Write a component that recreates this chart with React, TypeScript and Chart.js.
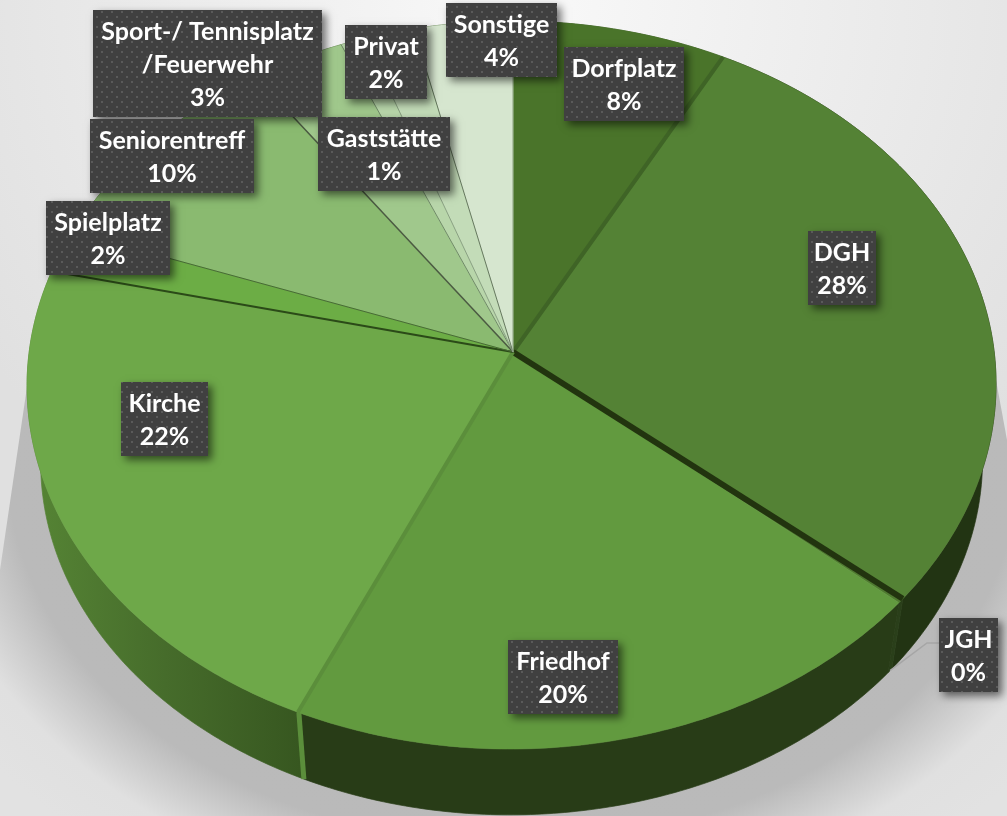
import React, { useEffect, useRef } from "react";
import { Chart, registerables } from "chart.js";

Chart.register(...registerables);

// ---- data ----
const categories = ["Dorfplatz", "DGH", "JGH", "Friedhof", "Kirche", "Spielplatz", "Seniorentreff", "Sport-/ Tennisplatz\n/Feuerwehr", "Gaststätte", "Privat", "Sonstige"];
const shares = [7.8, 28.4, 0.2, 20.29, 22, 1.9, 9.7, 3.4, 0.9, 1.8, 3.6];
const topColors = ["#4a742a", "#548235", "#4f7a30", "#629a3f", "#6ea849", "#6cad45", "#8aba70", "#a0c88c", "#b8d6aa", "#c3dcb8", "#d6e6cf"];

// ---- styling & layout ----
const wallColors = ["#3a5c22", "#223413", "#2a3f1a", "#283c17", "kirche", "#3a5c22", "#3a5c22", "#3a5c22", "#3a5c22", "#3a5c22", "#3a5c22"];
const boundaryStyles: [string, number][] = [
  ["#3f6426", 4], ["#22340f", 6], ["#283c17", 0], ["#5b8e3b", 4], ["#2b4a18", 2],
  ["#476a35", 1], ["#4b5a42", 1.5], ["#6f8a66", 1], ["#8aa183", 1], ["#66785f", 1], ["#aebfa8", 1],
];
// left, top, right, bottom of each label box
const labelBoxes = [
  [564, 47, 684, 121], [808, 231, 876, 305], [939, 618, 998, 692], [508, 640, 618, 714],
  [121, 382, 208, 456], [46, 201, 170, 275], [90, 119, 254, 193], [93, 10, 322, 117],
  [318, 117, 450, 191], [345, 25, 427, 99], [446, 3, 557, 77],
];
const drawOrder = [10, 9, 7, 8, 6, 5, 0, 1, 2, 3, 4];

const APEX = { x: 513, y: 352 };
const A = 482.5, B = 329.1, K = -0.0907, M = 0.003;
function rim(t: number) {
  const cx = Math.cos(t), cy = Math.sin(t);
  const w = 1 + K * cy + M * cx;
  return { x: APEX.x + (A * cx) / w, y: (B * cy + APEX.y) / w };
}
function lower(p: { x: number; y: number }) {
  return { x: 513 + 0.972 * (p.x - 513), y: 461 + 0.972 * (p.y - 385) };
}

function makePattern(ctx: CanvasRenderingContext2D) {
  const c = document.createElement("canvas");
  c.width = 10; c.height = 10;
  const g = c.getContext("2d")!;
  g.fillStyle = "#404040"; g.fillRect(0, 0, 10, 10);
  g.fillStyle = "#5a5a5a";
  g.fillRect(1, 1, 2, 2); g.fillRect(6, 6, 2, 2);
  return ctx.createPattern(c, "repeat")!;
}

const piePlugin = {
  id: "perspectivePie",
  beforeDraw(chart: any) {
    const ctx: CanvasRenderingContext2D = chart.ctx;
    const W = chart.width, H = chart.height;
    ctx.save();
    const bg = ctx.createRadialGradient(520, 0, 50, 520, 0, 640);
    bg.addColorStop(0, "#f7f7f7");
    bg.addColorStop(1, "#e0e0e0");
    ctx.fillStyle = bg;
    ctx.fillRect(0, 0, W, H);
    // floor shadow
    ctx.beginPath();
    ctx.moveTo(27, 387); ctx.lineTo(0, 570); ctx.lineTo(0, H); ctx.lineTo(W, H); ctx.lineTo(W, 440); ctx.lineTo(996, 380);
    ctx.closePath();
    ctx.clip();
    ctx.translate(513, 461);
    ctx.scale(1, 354 / 469);
    const R = 469 * 1.4;
    const sh = ctx.createRadialGradient(0, 0, 0, 0, 0, R);
    sh.addColorStop(0, "#b8b8b8");
    sh.addColorStop(1.08 / 1.4, "#bababa");
    sh.addColorStop(1.26 / 1.4, "#e0e0e0");
    sh.addColorStop(1, "#e2e2e2");
    ctx.fillStyle = sh;
    ctx.fillRect(-600, -900, 1300, 1800);
    ctx.restore();
  },
  beforeDatasetDraw(chart: any) {
    const ctx: CanvasRenderingContext2D = chart.ctx;
    const arcs = chart.getDatasetMeta(0).data;
    ctx.save();
    ctx.lineJoin = "round";
    const sample = (a0: number, a1: number) => {
      const n = Math.max(2, Math.ceil(Math.abs(a1 - a0) * 90));
      const pts = [];
      for (let i = 0; i <= n; i++) pts.push(rim(a0 + ((a1 - a0) * i) / n));
      return pts;
    };
    // walls
    arcs.forEach((arc: any, i: number) => {
      const pts = sample(arc.startAngle, arc.endAngle);
      ctx.beginPath();
      pts.forEach((p, j) => (j ? ctx.lineTo(p.x, p.y) : ctx.moveTo(p.x, p.y)));
      pts.slice().reverse().forEach((p) => { const q = lower(p); ctx.lineTo(q.x, q.y); });
      ctx.closePath();
      let fill: any = wallColors[i];
      if (fill === "kirche") {
        fill = ctx.createLinearGradient(30, 0, 300, 0);
        fill.addColorStop(0, "#568535");
        fill.addColorStop(0.5, "#466c2b");
        fill.addColorStop(1, "#375720");
      }
      ctx.fillStyle = fill; ctx.strokeStyle = fill; ctx.lineWidth = 0.7;
      ctx.fill(); ctx.stroke();
    });
    // wall gap at Friedhof / Kirche
    {
      const p = rim(arcs[3].endAngle), q = lower(p);
      ctx.strokeStyle = boundaryStyles[3][0]; ctx.lineWidth = 5;
      ctx.beginPath(); ctx.moveTo(p.x + 1, p.y); ctx.lineTo(q.x, q.y); ctx.stroke();
    }
    // top faces
    drawOrder.forEach((i) => {
      const arc = arcs[i];
      const pts = sample(arc.startAngle, arc.endAngle);
      ctx.beginPath();
      ctx.moveTo(APEX.x, APEX.y);
      pts.forEach((p) => ctx.lineTo(p.x, p.y));
      ctx.closePath();
      ctx.fillStyle = arc.options.backgroundColor;
      ctx.strokeStyle = arc.options.backgroundColor; ctx.lineWidth = 0.5;
      ctx.fill(); ctx.stroke();
    });
    // boundaries
    arcs.forEach((arc: any, i: number) => {
      const [col, w] = boundaryStyles[i];
      if (!w) return;
      const p = rim(arc.endAngle);
      ctx.strokeStyle = col; ctx.lineWidth = w; ctx.lineCap = "butt";
      ctx.beginPath(); ctx.moveTo(APEX.x, APEX.y); ctx.lineTo(p.x, p.y); ctx.stroke();
    });
    ctx.restore();
    return false;
  },
  afterDatasetsDraw(chart: any) {
    const ctx: CanvasRenderingContext2D = chart.ctx;
    const values: number[] = chart.data.datasets[0].data;
    const total = values.reduce((a, b) => a + b, 0);
    const pattern = makePattern(ctx);
    ctx.save();
    // JGH leader line
    const arc = chart.getDatasetMeta(0).data[2];
    const jgh = lower(rim((arc.startAngle + arc.endAngle) / 2));
    const jb = labelBoxes[2];
    ctx.strokeStyle = "#a6a6a6"; ctx.lineWidth = 1.5;
    ctx.beginPath(); ctx.moveTo(jb[0], 643); ctx.lineTo(927, 643); ctx.lineTo(jgh.x, jgh.y); ctx.stroke();
    // label boxes
    const order = [10, 9, 7, 8, 6, 5, 0, 1, 2, 3, 4];
    order.forEach((i) => {
      const [l, t, r, b] = labelBoxes[i];
      ctx.save();
      ctx.shadowColor = "rgba(0,0,0,0.55)"; ctx.shadowBlur = 8; ctx.shadowOffsetX = 4; ctx.shadowOffsetY = 4;
      ctx.fillStyle = "#404040";
      ctx.fillRect(l, t, r - l, b - t);
      ctx.restore();
      ctx.fillStyle = pattern;
      ctx.fillRect(l, t, r - l, b - t);
      const lines = [...categories[i].split("\n"), Math.round((values[i] / total) * 100) + "%"];
      ctx.fillStyle = "#ffffff";
      ctx.font = "bold 25px Lato";
      ctx.textAlign = "center"; ctx.textBaseline = "middle";
      const cy = (t + b) / 2 + 1.5, cx = (l + r) / 2;
      lines.forEach((s, j) => ctx.fillText(s, cx, cy + (j - (lines.length - 1) / 2) * 33));
    });
    ctx.restore();
  },
};

export default function App() {
  const ref = useRef<HTMLCanvasElement>(null);
  useEffect(() => {
    document.body.style.margin = "0";
    const chart = new Chart(ref.current!, {
      type: "pie",
      data: {
        labels: categories.map((c) => c.replace("\n", " ")),
        datasets: [{ data: shares, backgroundColor: topColors, borderWidth: 0 }],
      },
      options: {
        animation: false,
        responsive: false,
        events: [],
        plugins: { legend: { display: false }, tooltip: { enabled: false } },
      },
      plugins: [piePlugin],
    } as any);
    return () => chart.destroy();
  }, []);
  return <canvas ref={ref} width={1007} height={816} style={{ display: "block" }} />;
}
